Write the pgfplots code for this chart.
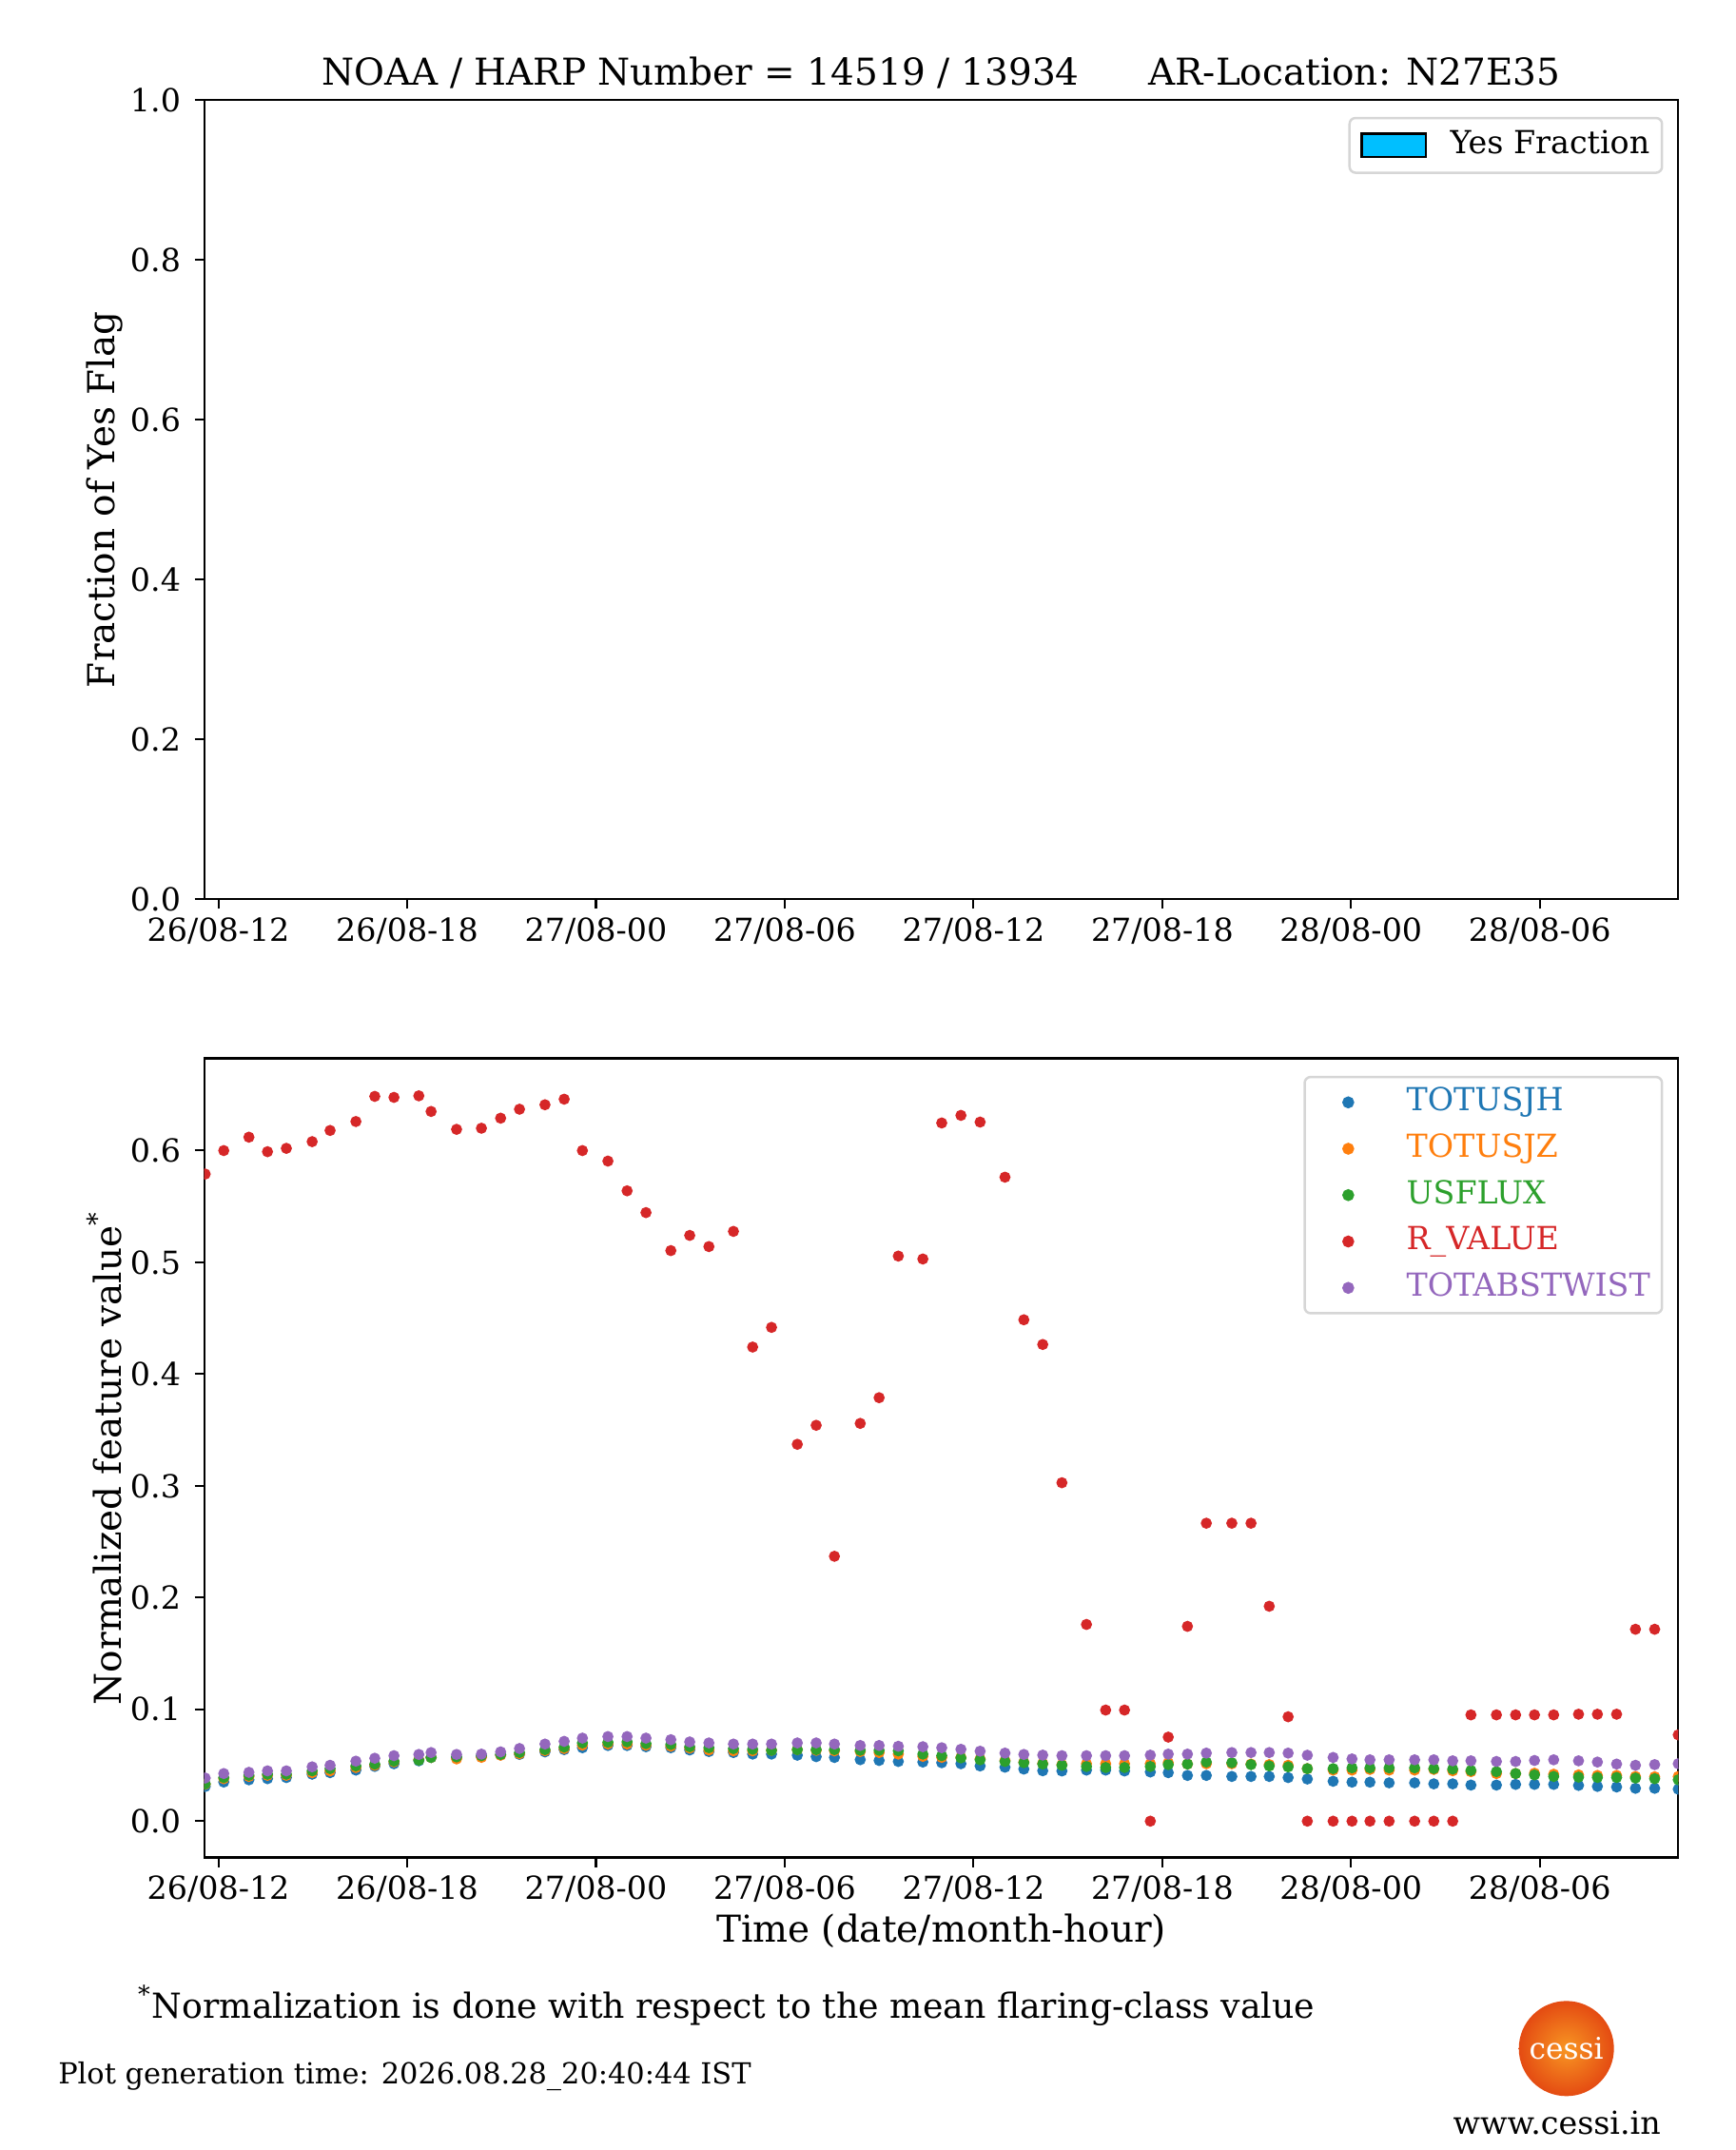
\documentclass[border=0pt]{standalone}
\usepackage{fontspec}
\setmainfont{DejaVu Serif}
\usepackage{pgfplots}
\pgfplotsset{compat=1.18}
\usepackage{pgfplotstable}
\definecolor{tabblue}{HTML}{1F77B4}
\definecolor{taborange}{HTML}{FF7F0E}
\definecolor{tabgreen}{HTML}{2CA02C}
\definecolor{tabred}{HTML}{D62728}
\definecolor{tabpurple}{HTML}{9467BD}
\definecolor{deepsky}{HTML}{00BFFF}
\definecolor{sunin}{RGB}{248,150,35}
\definecolor{sunout}{RGB}{228,75,18}

\pgfplotstableread{
t B O G R P
11.58 0.0310 0.0330 0.0334 0.5790 0.0386
12.17 0.0350 0.0380 0.0390 0.6000 0.0426
12.97 0.0370 0.0400 0.0410 0.6120 0.0437
13.56 0.0380 0.0410 0.0420 0.5990 0.0450
14.16 0.0390 0.0410 0.0420 0.6020 0.0450
14.98 0.0420 0.0434 0.0450 0.6080 0.0486
15.55 0.0434 0.0450 0.0470 0.6180 0.0500
16.37 0.0457 0.0480 0.0494 0.6260 0.0537
16.97 0.0490 0.0500 0.0510 0.6485 0.0563
17.58 0.0514 0.0530 0.0537 0.6476 0.0586
18.37 0.0540 0.0550 0.0546 0.6490 0.0597
18.76 0.0570 0.0570 0.0570 0.6350 0.0614
19.57 0.0570 0.0557 0.0575 0.6190 0.0597
20.36 0.0580 0.0571 0.0586 0.6200 0.0600
20.97 0.0594 0.0590 0.0597 0.6290 0.0620
21.57 0.0597 0.0603 0.0614 0.6370 0.0650
22.38 0.0620 0.0630 0.0640 0.6410 0.0690
22.99 0.0640 0.0650 0.0663 0.6460 0.0714
23.57 0.0657 0.0680 0.0700 0.6000 0.0743
24.38 0.0677 0.0691 0.0706 0.5906 0.0757
24.99 0.0677 0.0690 0.0710 0.5640 0.0757
25.59 0.0666 0.0680 0.0694 0.5445 0.0743
26.38 0.0657 0.0671 0.0686 0.5105 0.0729
26.98 0.0637 0.0654 0.0666 0.5241 0.0709
27.59 0.0623 0.0637 0.0657 0.5141 0.0700
28.37 0.0614 0.0629 0.0649 0.5277 0.0690
28.98 0.0600 0.0629 0.0643 0.4242 0.0690
29.58 0.0600 0.0634 0.0634 0.4418 0.0690
30.40 0.0590 0.0640 0.0640 0.3372 0.0700
31.00 0.0577 0.0634 0.0640 0.3542 0.0700
31.58 0.0570 0.0629 0.0640 0.2370 0.0690
32.40 0.0550 0.0623 0.0634 0.3559 0.0677
33.00 0.0543 0.0614 0.0634 0.3789 0.0677
33.61 0.0534 0.0600 0.0629 0.5056 0.0670
34.39 0.0529 0.0580 0.0600 0.5030 0.0666
34.99 0.0523 0.0571 0.0586 0.6247 0.0657
35.60 0.0514 0.0571 0.0566 0.6315 0.0643
36.21 0.0494 0.0557 0.0549 0.6255 0.0626
37.00 0.0483 0.0543 0.0534 0.5762 0.0609
37.60 0.0466 0.0529 0.0523 0.4486 0.0597
38.20 0.0451 0.0517 0.0511 0.4265 0.0591
38.81 0.0449 0.0506 0.0500 0.3028 0.0586
39.59 0.0457 0.0514 0.0489 0.1760 0.0586
40.20 0.0457 0.0514 0.0480 0.0994 0.0586
40.80 0.0449 0.0514 0.0480 0.0994 0.0586
41.62 0.0440 0.0514 0.0489 0.0000 0.0591
42.19 0.0434 0.0523 0.0506 0.0752 0.0600
42.80 0.0409 0.0511 0.0511 0.1743 0.0600
43.40 0.0409 0.0514 0.0529 0.2666 0.0609
44.21 0.0400 0.0514 0.0523 0.2666 0.0614
44.82 0.0400 0.0511 0.0506 0.2666 0.0614
45.40 0.0400 0.0506 0.0494 0.1923 0.0614
46.00 0.0390 0.0500 0.0486 0.0934 0.0609
46.61 0.0377 0.0470 0.0470 0.0000 0.0590
47.43 0.0357 0.0457 0.0470 0.0000 0.0570
48.03 0.0349 0.0457 0.0477 0.0000 0.0557
48.60 0.0349 0.0463 0.0477 0.0000 0.0549
49.21 0.0343 0.0457 0.0477 0.0000 0.0549
50.02 0.0343 0.0457 0.0477 0.0000 0.0549
50.63 0.0334 0.0463 0.0471 0.0000 0.0549
51.23 0.0334 0.0451 0.0466 0.0000 0.0540
51.81 0.0323 0.0443 0.0454 0.0951 0.0540
52.62 0.0323 0.0426 0.0443 0.0951 0.0534
53.23 0.0329 0.0426 0.0426 0.0951 0.0534
53.83 0.0329 0.0429 0.0414 0.0951 0.0543
54.44 0.0329 0.0420 0.0400 0.0951 0.0549
55.23 0.0320 0.0414 0.0394 0.0957 0.0540
55.83 0.0311 0.0409 0.0391 0.0957 0.0529
56.44 0.0306 0.0409 0.0391 0.0957 0.0511
57.04 0.0294 0.0400 0.0386 0.1717 0.0500
57.65 0.0294 0.0397 0.0380 0.1717 0.0506
58.40 0.0286 0.0400 0.0370 0.0772 0.0514
}\data

\pgfplotsset{
  mplaxis/.style={
    scale only axis, width=371.9pt, height=201.6pt,
    xmin=11.55, xmax=58.40,
    xtick={12,18,24,30,36,42,48,54},
    xticklabels={26/08-12,26/08-18,27/08-00,27/08-06,27/08-12,27/08-18,28/08-00,28/08-06},
    tick align=outside, tick pos=left, major tick length=2.4pt,
    axis line style={line width=0.5pt},
    every tick/.style={black, line width=0.5pt},
    tick label style={font=\fontsize{8}{9.6}\selectfont},
    xticklabel style={yshift=1.2pt},
    /pgf/number format/assume math mode=true,
    yticklabel style={/pgf/number format/fixed, /pgf/number format/fixed zerofill, /pgf/number format/precision=1},
    every axis y label/.style={at={(rel axis cs:0,0.5)}, xshift=-25.2pt, rotate=90, anchor=center, font=\fontsize{9.35}{11}\selectfont},
    every axis x label/.style={at={(rel axis cs:0.5,0)}, yshift=-18.6pt, anchor=center, font=\fontsize{9.35}{11}\selectfont},
    every axis title/.style={at={(rel axis cs:0.5,1)}, yshift=7pt, anchor=center, font=\fontsize{9.35}{11}\selectfont},
    legend cell align=left,
  }
}

\begin{document}
\begin{tikzpicture}
\useasboundingbox (0,0) rectangle (438pt,-542.4pt);

% ---------- top axis ----------
\begin{axis}[mplaxis,
  at={(51.53pt,-226.87pt)}, anchor=south west,
  ymin=0, ymax=1, ytick={0,0.2,0.4,0.6,0.8,1.0},
  ylabel={Fraction of Yes Flag},
  title={NOAA / HARP Number = 14519 / 13934\hspace{14.5pt} AR-Location: N27E35},
  legend style={at={(rel axis cs:1,1)}, xshift=-3.8pt, yshift=-4.2pt, anchor=north east,
    draw=black!16, line width=0.6pt, rounded corners=1.5pt,
    font=\fontsize{8}{9.6}\selectfont, inner xsep=1.6pt, inner ysep=1.5pt,
    nodes={inner sep=1.5pt, text height=6pt, text depth=1.8pt}},
  legend image code/.code={\path[draw=none, fill=none] (0pt,0pt) -- (22.3pt,0pt);
    \draw[#1, sharp corners] (1.5pt,-2.9pt) rectangle (17.7pt,2.9pt);},
]
\addlegendimage{draw=black, fill=deepsky, line width=0.6pt}
\addlegendentry{Yes Fraction}
\end{axis}

% ---------- bottom axis ----------
\begin{axis}[mplaxis,
  at={(51.53pt,-468.6pt)}, anchor=south west,
  ymin=-0.0325, ymax=0.6825, ytick={0,0.1,0.2,0.3,0.4,0.5,0.6},
  ylabel={Normalized feature value\textsuperscript{*}},
  xlabel={Time (date/month-hour)},
  clip marker paths=true,
  legend style={at={(rel axis cs:1,1)}, xshift=-3.8pt, yshift=-4.4pt, anchor=north east,
    draw=black!16, line width=0.6pt, rounded corners=1.5pt,
    font=\fontsize{8}{9.6}\selectfont, inner xsep=2pt, inner ysep=1.5pt, row sep=1.9pt,
    nodes={inner sep=1pt, text height=6pt, text depth=1.8pt}},
  legend image code/.code={\path[draw=none, fill=none] (0pt,0pt) -- (22.7pt,0pt);
    \draw[#1] plot[only marks] coordinates {(9pt,0pt)};},
]
\addplot[only marks, mark=*, mark size=1.2pt, color=tabblue] table[x=t, y=B] {\data};
\addlegendentry{\textcolor{tabblue}{TOTUSJH}}
\addplot[only marks, mark=*, mark size=1.2pt, color=taborange] table[x=t, y=O] {\data};
\addlegendentry{\textcolor{taborange}{TOTUSJZ}}
\addplot[only marks, mark=*, mark size=1.2pt, color=tabgreen] table[x=t, y=G] {\data};
\addlegendentry{\textcolor{tabgreen}{USFLUX}}
\addplot[only marks, mark=*, mark size=1.2pt, color=tabred] table[x=t, y=R] {\data};
\addlegendentry{\textcolor{tabred}{R\_VALUE}}
\addplot[only marks, mark=*, mark size=1.2pt, color=tabpurple] table[x=t, y=P] {\data};
\addlegendentry{\textcolor{tabpurple}{TOTABSTWIST}}
\end{axis}

% ---------- footer ----------
\node[anchor=west, font=\fontsize{8.7}{10.4}\selectfont, inner sep=0pt] at (34.6pt,-505.9pt)
  {\textsuperscript{*}Normalization is done with respect to the mean flaring-class value};
\node[anchor=west, font=\fontsize{7.3}{8.8}\selectfont, inner sep=0pt] at (14.5pt,-523.9pt)
  {Plot generation time: 2026.08.28\_20:40:44 IST};
\shade[inner color=sunin, outer color=sunout] (395.2pt,-516.8pt) circle (12pt);
\node[text=white, font=\fontsize{7.5}{9}\selectfont, inner sep=0pt] at (395.2pt,-516.8pt) {cessi};
\node[font=\fontsize{8}{9.6}\selectfont, inner sep=0pt] at (392.8pt,-535.6pt) {www.cessi.in};
\end{tikzpicture}
\end{document}
